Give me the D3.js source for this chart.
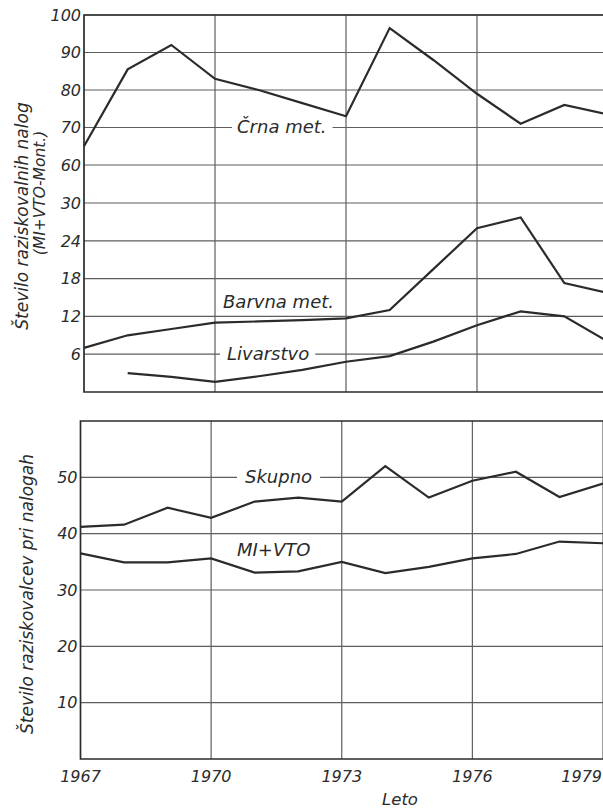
<!DOCTYPE html>
<html>
<head>
<meta charset="utf-8">
<script src="https://cdn.jsdelivr.net/npm/d3@7"></script>
<style>
  html, body { margin: 0; padding: 0; background: #fff; }
  svg { display: block; }
  text { font-family: "DejaVu Sans", "Liberation Sans", sans-serif; font-style: oblique; fill: #2b2b2b; }
</style>
</head>
<body>
<svg id="chart" width="603" height="808"></svg>
<script>
// Years on the horizontal axis
const years = [1967, 1968, 1969, 1970, 1971, 1972, 1973, 1974, 1975, 1976, 1977, 1978, 1979];
const yearTicks = [1967, 1970, 1973, 1976, 1979];

// Upper panel: number of research tasks (MI + VTO-Mont.)
const crnaMet     = [65, 85.5, 92, 83, 80, 76.5, 73, 96.5, 88, 79, 71, 76, 73.5];
const barvnaMet   = [7, 9, 10, 11, 11.2, 11.4, 11.7, 13, 19.5, 26, 27.7, 17.3, 15.7];
const livarstvo   = [null, 3, 2.4, 1.6, 2.5, 3.5, 4.8, 5.7, 8, 10.6, 12.8, 12, 8];
const upperTicks  = [6, 12, 18, 24, 30, 60, 70, 80, 90, 100];

// Lower panel: number of researchers on the tasks
const skupno      = [41.2, 41.6, 44.6, 42.8, 45.7, 46.4, 45.7, 52, 46.4, 49.4, 51, 46.5, 48.9];
const miVto       = [36.5, 34.9, 34.9, 35.6, 33.1, 33.3, 35, 33, 34.1, 35.6, 36.4, 38.6, 38.3];
const lowerTicks  = [10, 20, 30, 40, 50];

const svg = d3.select("#chart");
const INK = "#2b2b2b";
const GRID = "#5e5e5e";
const TICK_FS = 16;
const LABEL_FS = 18;

// ---------- scales ----------
const xTop = d3.scaleLinear().domain([1967, 1979]).range([84, 608]);
// broken axis: 0–30 on the lower five rows, 60–100 on the upper four
const yTop = d3.scaleLinear().domain([0, 30, 60, 100]).range([392, 203, 165, 15]);

const xBot = d3.scaleLinear().domain([1967, 1979]).range([80.5, 603]);
const yBot = d3.scaleLinear().domain([0, 60]).range([759, 421]);

function drawPanel(g, x, y, ticks, topVal) {
  // horizontal grid lines
  g.append("g").selectAll("line").data(ticks).join("line")
    .attr("x1", x(1967)).attr("x2", x(1979))
    .attr("y1", d => y(d)).attr("y2", d => y(d))
    .attr("stroke", GRID).attr("stroke-width", 1.2);
  // vertical grid lines
  g.append("g").selectAll("line").data(yearTicks.slice(1)).join("line")
    .attr("x1", d => x(d)).attr("x2", d => x(d))
    .attr("y1", y(topVal)).attr("y2", y(0))
    .attr("stroke", GRID).attr("stroke-width", 1.2);
  // frame: top, left, bottom
  g.append("path")
    .attr("d", `M${x(1979)},${y(topVal)}H${x(1967)}V${y(0)}H${x(1979)}`)
    .attr("fill", "none").attr("stroke", INK).attr("stroke-width", 1.7);
  // y tick labels
  g.append("g").selectAll("text").data(ticks).join("text")
    .attr("x", x(1967) - 3).attr("y", d => y(d))
    .attr("dy", "0.36em").attr("text-anchor", "end")
    .attr("font-size", TICK_FS).text(d => d);
}

const gTop = svg.append("g");
const gBot = svg.append("g");
drawPanel(gTop, xTop, yTop, upperTicks, 100);
drawPanel(gBot, xBot, yBot, lowerTicks, 60);

// ---------- in-plot labels (white background breaks the grid line) ----------
function label(g, txt, xPos, yPos, padL, padR) {
  const lg = g.append("g");
  const bg = lg.append("rect").attr("fill", "#fff");
  const t = lg.append("text").attr("x", xPos).attr("y", yPos)
    .attr("font-size", LABEL_FS).text(txt);
  const b = t.node().getBBox();
  bg.attr("x", b.x - padL).attr("y", b.y + 2).attr("width", b.width + padL + padR).attr("height", b.height - 4);
}
label(gTop, "Črna met.", 237, 133, 5, 6);
label(gTop, "Barvna met.", 223, 308, 0, 0);
label(gTop, "Livarstvo", 227, 360, 7, 6);
label(gBot, "Skupno", 245, 483, 8, 8);
label(gBot, "MI+VTO", 237, 556, 0, 0);

// ---------- series lines ----------
function series(g, x, y, vals) {
  const line = d3.line()
    .defined(d => d != null)
    .x((d, i) => x(years[i]))
    .y(d => y(d));
  g.append("path").datum(vals)
    .attr("d", line)
    .attr("fill", "none").attr("stroke", INK)
    .attr("stroke-width", 2.2).attr("stroke-linejoin", "miter");
}
series(gTop, xTop, yTop, crnaMet);
series(gTop, xTop, yTop, barvnaMet);
series(gTop, xTop, yTop, livarstvo);
series(gBot, xBot, yBot, skupno);
series(gBot, xBot, yBot, miVto);

// ---------- x axis labels ----------
gBot.append("g").selectAll("text").data(yearTicks).join("text")
  .attr("x", d => d === 1979 ? 602 : xBot(d)).attr("y", 782)
  .attr("text-anchor", d => d === 1979 ? "end" : "middle")
  .attr("font-size", TICK_FS).text(d => d);
svg.append("text").attr("x", 400).attr("y", 805)
  .attr("text-anchor", "middle").attr("font-size", 16.5).text("Leto");

// ---------- y axis titles ----------
svg.append("text")
  .attr("transform", "translate(28,216) rotate(-90)")
  .attr("text-anchor", "middle").attr("font-size", 17)
  .text("Število raziskovalnih nalog");
svg.append("text")
  .attr("transform", "translate(45,193) rotate(-90)")
  .attr("text-anchor", "middle").attr("font-size", 15.5)
  .text("(MI+VTO-Mont.)");
svg.append("text")
  .attr("transform", "translate(33,594) rotate(-90)")
  .attr("text-anchor", "middle").attr("font-size", 17)
  .text("Število raziskovalcev pri nalogah");
</script>
</body>
</html>
